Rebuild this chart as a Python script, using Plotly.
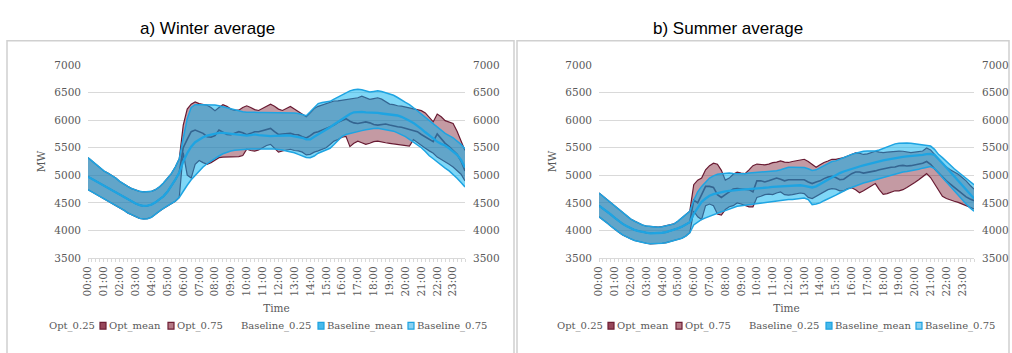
import plotly.graph_objects as go

W, H = 1012, 353

times = [f"{h:02d}:{m:02d}" for h in range(24) for m in (0, 15, 30, 45)]
hour_labels = ["00:00", "01:00", "02:00", "03:00", "04:00", "05:00", "06:00", "07:00",
               "08:00", "09:00", "10:00", "11:00", "12:00", "13:00", "14:00", "15:00",
               "16:00", "17:00", "18:00", "19:00", "20:00", "21:00", "22:00", "23:00"]

# ---------------- Winter ----------------
w_base_q25 = [4740, 4700, 4660, 4620, 4580, 4540, 4500, 4460, 4420, 4370, 4320, 4290, 4250, 4220, 4210, 4215, 4240, 4300, 4350, 4400, 4440, 4480, 4530, 4600,
              4720, 4820, 4920, 5000, 5080, 5150, 5210, 5260, 5310, 5350, 5390, 5420, 5440, 5455, 5465, 5470, 5472, 5475, 5478, 5480, 5480, 5480, 5478, 5475,
              5470, 5460, 5442, 5430, 5410, 5380, 5350, 5325, 5320, 5350, 5400, 5430, 5460, 5490, 5559, 5640, 5705, 5740, 5760, 5775, 5793, 5810, 5825, 5840,
              5848, 5851, 5840, 5830, 5822, 5800, 5770, 5740, 5700, 5650, 5600, 5559, 5500, 5430, 5355, 5300, 5240, 5180, 5130, 5080, 5020, 4947, 4870, 4790]
w_base_mean = [4975, 4935, 4890, 4850, 4800, 4760, 4720, 4680, 4640, 4600, 4560, 4520, 4490, 4460, 4445, 4450, 4470, 4510, 4560, 4620, 4700, 4800, 4920, 5050,
               5250, 5400, 5520, 5600, 5650, 5690, 5720, 5740, 5755, 5770, 5770, 5760, 5750, 5740, 5730, 5720, 5720, 5730, 5740, 5730, 5720, 5715, 5710, 5715,
               5720, 5720, 5722, 5720, 5710, 5700, 5680, 5650, 5650, 5700, 5740, 5780, 5820, 5870, 5920, 5970, 6026, 6070, 6110, 6142, 6150, 6150, 6142, 6140,
               6135, 6130, 6120, 6110, 6100, 6090, 6084, 6060, 6030, 5990, 5950, 5900, 5840, 5780, 5720, 5660, 5610, 5570, 5540, 5490, 5430, 5370, 5280, 5140]
w_base_q75 = [5320, 5260, 5200, 5130, 5080, 5040, 5000, 4950, 4890, 4840, 4800, 4760, 4730, 4710, 4700, 4700, 4710, 4740, 4790, 4860, 4940, 5030, 5150, 5300,
              5675, 6025, 6230, 6280, 6280, 6280, 6280, 6280, 6275, 6260, 6240, 6220, 6200, 6180, 6160, 6150, 6145, 6140, 6140, 6140, 6140, 6140, 6140, 6140,
              6140, 6140, 6140, 6135, 6130, 6120, 6100, 6080, 6150, 6220, 6300, 6320, 6330, 6340, 6380, 6420, 6460, 6500, 6530, 6550, 6560, 6550, 6530, 6510,
              6520, 6530, 6520, 6500, 6480, 6450, 6410, 6360, 6320, 6280, 6230, 6170, 6110, 6050, 5990, 5930, 5870, 5810, 5760, 5720, 5680, 5620, 5560, 5480]
w_opt_q25 = [4740, 4700, 4660, 4620, 4580, 4540, 4500, 4460, 4420, 4370, 4320, 4290, 4250, 4220, 4210, 4215, 4240, 4300, 4350, 4400, 4440, 4480, 4530, 4600,
             5413, 5005, 4950, 5200, 5268, 5230, 5200, 5230, 5280, 5320, 5330, 5335, 5330, 5335, 5340, 5360, 5472, 5450, 5440, 5460, 5500, 5540, 5560, 5480,
             5420, 5440, 5460, 5472, 5450, 5443, 5420, 5370, 5380, 5420, 5443, 5470, 5500, 5560, 5620, 5650, 5690, 5705, 5520, 5580, 5618, 5590, 5560, 5580,
             5610, 5618, 5600, 5590, 5580, 5570, 5559, 5550, 5540, 5530, 5647, 5600, 5540, 5490, 5443, 5400, 5330, 5290, 5250, 5200, 5150, 5080, 5020, 4900]
w_opt_mean = [4975, 4935, 4890, 4850, 4800, 4760, 4720, 4680, 4640, 4600, 4560, 4520, 4490, 4460, 4445, 4450, 4470, 4510, 4560, 4620, 4700, 4800, 4920, 5050,
              5500, 5650, 5790, 5820, 5790, 5760, 5700, 5690, 5720, 5822, 5780, 5740, 5734, 5760, 5790, 5770, 5734, 5760, 5790, 5790, 5810, 5840, 5850, 5790,
              5740, 5750, 5760, 5760, 5740, 5734, 5700, 5676, 5720, 5770, 5790, 5820, 5850, 5880, 5909, 5960, 6000, 6026, 5980, 5950, 5938, 5950, 5968, 5950,
              5920, 5909, 5920, 5930, 5910, 5890, 5880, 5870, 5850, 5840, 5820, 5790, 5740, 5700, 5650, 5610, 5750, 5660, 5580, 5520, 5450, 5380, 5260, 5080]
w_opt_q75 = [5320, 5260, 5200, 5130, 5080, 5040, 5000, 4950, 4890, 4840, 4800, 4760, 4730, 4710, 4700, 4700, 4710, 4740, 4790, 4860, 4940, 5030, 5150, 5300,
             5910, 6200, 6290, 6330, 6300, 6280, 6270, 6230, 6172, 6230, 6280, 6250, 6200, 6175, 6180, 6230, 6260, 6230, 6190, 6175, 6210, 6260, 6288, 6250,
             6200, 6175, 6210, 6247, 6200, 6150, 6110, 6060, 6130, 6210, 6250, 6275, 6300, 6320, 6347, 6350, 6360, 6370, 6390, 6400, 6405, 6434, 6400, 6376,
             6390, 6405, 6380, 6330, 6290, 6280, 6260, 6255, 6240, 6230, 6210, 6190, 6172, 6130, 6040, 5970, 6110, 6060, 5990, 5970, 5940, 5800, 5640, 5450]

# ---------------- Summer ----------------
s_base_q25 = [4250, 4200, 4140, 4080, 4020, 3970, 3920, 3880, 3850, 3820, 3800, 3780, 3770, 3760, 3760, 3760, 3770, 3780, 3800, 3810, 3830, 3860, 3900, 3960,
              4100, 4150, 4200, 4230, 4260, 4290, 4320, 4340, 4360, 4390, 4420, 4440, 4450, 4460, 4470, 4480, 4480, 4490, 4500, 4510, 4520, 4530, 4540, 4550,
              4560, 4560, 4570, 4580, 4590, 4560, 4470, 4480, 4500, 4540, 4570, 4600, 4640, 4680, 4720, 4750, 4780, 4810, 4840, 4860, 4880, 4900, 4920, 4940,
              4960, 4990, 5010, 5030, 5050, 5060, 5070, 5080, 5090, 5110, 5130, 5150, 5160, 5120, 5040, 4960, 4870, 4790, 4700, 4620, 4550, 4480, 4410, 4350]
s_base_mean = [4450, 4400, 4350, 4290, 4230, 4170, 4120, 4080, 4040, 4010, 3990, 3970, 3960, 3950, 3950, 3950, 3960, 3970, 3990, 4010, 4040, 4070, 4110, 4150,
               4300, 4420, 4520, 4580, 4630, 4660, 4680, 4700, 4710, 4720, 4730, 4735, 4740, 4745, 4750, 4750, 4755, 4760, 4770, 4780, 4790, 4795, 4800, 4805,
               4810, 4815, 4820, 4820, 4810, 4790, 4780, 4800, 4840, 4880, 4930, 4970, 5010, 5040, 5070, 5095, 5120, 5140, 5160, 5180, 5200, 5220, 5240, 5255,
               5270, 5285, 5300, 5315, 5325, 5335, 5345, 5350, 5360, 5365, 5370, 5385, 5390, 5370, 5300, 5220, 5140, 5060, 4980, 4900, 4820, 4740, 4660, 4580]
s_base_q75 = [4680, 4620, 4560, 4500, 4440, 4380, 4320, 4260, 4210, 4170, 4130, 4100, 4080, 4070, 4060, 4060, 4070, 4090, 4100, 4120, 4170, 4230, 4290, 4350,
              4550, 4700, 4800, 4880, 4950, 4990, 5020, 5030, 5040, 5040, 5035, 5030, 5030, 5030, 5040, 5045, 5050, 5060, 5060, 5065, 5075, 5085, 5100, 5120,
              5146, 5146, 5146, 5146, 5140, 5120, 5088, 5100, 5140, 5180, 5220, 5250, 5262, 5290, 5320, 5360, 5380, 5400, 5420, 5436, 5440, 5440, 5440, 5460,
              5490, 5520, 5540, 5570, 5580, 5585, 5585, 5581, 5570, 5570, 5555, 5550, 5530, 5470, 5380, 5320, 5250, 5190, 5120, 5060, 5000, 4943, 4880, 4830]
s_opt_q25 = [4250, 4200, 4140, 4080, 4020, 3970, 3920, 3880, 3850, 3820, 3800, 3780, 3770, 3760, 3760, 3760, 3770, 3780, 3800, 3810, 3830, 3860, 3900, 3960,
             4350, 4250, 4200, 4450, 4480, 4450, 4300, 4280, 4380, 4430, 4450, 4500, 4480, 4450, 4430, 4430, 4600, 4620, 4650, 4660, 4650, 4680, 4700, 4650,
             4640, 4650, 4660, 4680, 4670, 4600, 4580, 4620, 4650, 4700, 4740, 4760, 4750, 4720, 4720, 4760, 4774, 4740, 4685, 4720, 4760, 4800, 4850, 4740,
             4656, 4670, 4700, 4720, 4720, 4740, 4780, 4833, 4870, 4920, 4980, 5030, 4960, 4850, 4720, 4620, 4580, 4550, 4530, 4509, 4480, 4450, 4420, 4390]
s_opt_mean = [4450, 4400, 4350, 4290, 4230, 4170, 4120, 4080, 4040, 4010, 3990, 3970, 3960, 3950, 3950, 3950, 3960, 3970, 3990, 4010, 4040, 4070, 4110, 4150,
              4550, 4500, 4650, 4800, 4800, 4780, 4650, 4600, 4650, 4700, 4750, 4760, 4750, 4750, 4740, 4700, 4900, 4900, 4880, 4900, 4920, 4950, 4930, 4900,
              4920, 4920, 4920, 4930, 4920, 4880, 4850, 4880, 4900, 4940, 4970, 4980, 4960, 4920, 4930, 4980, 5030, 5059, 5059, 5040, 5050, 5060, 5080, 5100,
              5120, 5140, 5146, 5150, 5175, 5180, 5170, 5175, 5190, 5210, 5220, 5250, 5200, 5120, 5040, 4960, 4900, 4840, 4780, 4720, 4660, 4610, 4570, 4540]
s_opt_q75 = [4680, 4620, 4560, 4500, 4440, 4380, 4320, 4260, 4210, 4170, 4130, 4100, 4080, 4070, 4060, 4060, 4070, 4090, 4100, 4120, 4170, 4230, 4290, 4350,
             4830, 4913, 4950, 5100, 5175, 5220, 5200, 5090, 4913, 4950, 5020, 5059, 5040, 5030, 5100, 5175, 5204, 5200, 5190, 5204, 5230, 5240, 5262, 5240,
             5233, 5250, 5262, 5270, 5291, 5250, 5204, 5146, 5190, 5233, 5260, 5291, 5290, 5300, 5320, 5350, 5380, 5407, 5400, 5378, 5390, 5410, 5436, 5420,
             5410, 5420, 5430, 5436, 5440, 5436, 5420, 5410, 5420, 5430, 5440, 5494, 5460, 5380, 5300, 5230, 5150, 5100, 5060, 5020, 4960, 4900, 4820, 4750]

panel_titles = ["a) Winter average", "b) Summer average"]
legend_names = ["Opt_0.25", "Opt_mean", "Opt_0.75", "Baseline_0.25", "Baseline_mean", "Baseline_0.75"]
y_ticks = [3500, 4000, 4500, 5000, 5500, 6000, 6500, 7000]

# ---------------- styles ----------------
OPT_LINE = "rgb(104,26,50)"
OPT_FILL = "rgba(125,30,52,0.45)"
BASE_LINE = "rgb(30,164,226)"
BASE_FILL = "rgba(0,176,240,0.5)"
GRID = "#d9d9d9"
TXT = "#595959"
SERIF = "DejaVu Serif"


def px(x):
    return x / W


def py(y):
    return 1 - y / H


fig = go.Figure()

panels = [
    dict(data=(w_opt_q25, w_opt_mean, w_opt_q75, w_base_q25, w_base_mean, w_base_q75),
         xa="x", ya="y", yr="y3"),
    dict(data=(s_opt_q25, s_opt_mean, s_opt_q75, s_base_q25, s_base_mean, s_base_q75),
         xa="x2", ya="y2", yr="y4"),
]

for p in panels:
    oq25, omean, oq75, bq25, bmean, bq75 = p["data"]
    kw = dict(x=times, xaxis=p["xa"], yaxis=p["ya"], mode="lines", showlegend=False, hoverinfo="x+y+name")
    fig.add_trace(go.Scatter(y=oq25, name="Opt_0.25", line=dict(color=OPT_LINE, width=1.2), **kw))
    fig.add_trace(go.Scatter(y=oq75, name="Opt_0.75", fill="tonexty", fillcolor=OPT_FILL,
                             line=dict(color=OPT_LINE, width=1.2), **kw))
    fig.add_trace(go.Scatter(y=omean, name="Opt_mean", line=dict(color=OPT_LINE, width=1.6), **kw))
    fig.add_trace(go.Scatter(y=bq25, name="Baseline_0.25", line=dict(color=BASE_LINE, width=1.5), **kw))
    fig.add_trace(go.Scatter(y=bq75, name="Baseline_0.75", fill="tonexty", fillcolor=BASE_FILL,
                             line=dict(color=BASE_LINE, width=1.5), **kw))
    fig.add_trace(go.Scatter(y=bmean, name="Baseline_mean", line=dict(color=BASE_LINE, width=2.3), **kw))
    # anchor trace for the mirrored right-hand axis
    fig.add_trace(go.Scatter(x=[times[0]], y=[None], xaxis=p["xa"], yaxis=p["yr"], mode="lines",
                             showlegend=False, hoverinfo="skip"))

tickvals = times
ticktext = [t if t in hour_labels else "" for t in times]

xcommon = dict(type="category", categoryorder="array", categoryarray=times,
               range=[0, len(times) - 1], tickvals=tickvals, ticktext=ticktext,
               tickangle=-90, ticks="outside", ticklen=3, tickcolor=GRID, tickwidth=1,
               showline=True, linecolor=GRID, linewidth=1, showgrid=False, zeroline=False,
               tickfont=dict(family=SERIF, size=10.5, color=TXT),
               title=dict(text="Time", font=dict(family=SERIF, size=10.5, color=TXT), standoff=9),
               automargin=False)
ycommon = dict(range=[3500, 7000], tickvals=y_ticks, showgrid=True, gridcolor=GRID, gridwidth=1,
               zeroline=False, showline=False, ticks="",
               tickfont=dict(family=SERIF, size=10.5, color=TXT), automargin=False)

fig.update_layout(
    width=W, height=H, autosize=False,
    margin=dict(l=0, r=0, t=0, b=0),
    paper_bgcolor="white", plot_bgcolor="white",
    showlegend=False,
    xaxis=dict(domain=[px(88), px(465)], anchor="y", **xcommon),
    xaxis2=dict(domain=[px(599), px(974)], anchor="y2", **xcommon),
    yaxis=dict(domain=[py(261), py(61)], anchor="x", ticklabelstandoff=6,
               title=dict(text="MW", font=dict(family=SERIF, size=10.5, color=TXT), standoff=6), **ycommon),
    yaxis2=dict(domain=[py(261), py(61)], anchor="x2", ticklabelstandoff=6,
                title=dict(text="MW", font=dict(family=SERIF, size=10.5, color=TXT), standoff=6), **ycommon),
    yaxis3=dict(overlaying="y", side="right", anchor="x", range=[3500, 7000], tickvals=y_ticks,
                showgrid=False, zeroline=False, showline=False, ticks="", ticklabelstandoff=7,
                tickfont=dict(family=SERIF, size=10.5, color=TXT)),
    yaxis4=dict(overlaying="y2", side="right", anchor="x2", range=[3500, 7000], tickvals=y_ticks,
                showgrid=False, zeroline=False, showline=False, ticks="", ticklabelstandoff=7,
                tickfont=dict(family=SERIF, size=10.5, color=TXT)),
)

shapes = []
annotations = []

# panel frames
for bx0, bx1 in [(7, 514), (517, 1009)]:
    shapes.append(dict(type="rect", xref="paper", yref="paper", x0=px(bx0), x1=px(bx1),
                       y0=py(362), y1=py(36), line=dict(color="#d0d0d0", width=1.5), fillcolor="rgba(0,0,0,0)",
                       layer="below"))

# panel titles
for title, cx in zip(panel_titles, [207, 728]):
    annotations.append(dict(text=title, xref="paper", yref="paper", x=px(cx), y=py(23),
                            xanchor="center", yanchor="middle", showarrow=False,
                            font=dict(family="Liberation Sans, Arial", size=17, color="#000000")))

# legends (Excel-style keys)
key_styles = [None, ("rgb(110,30,52)", "rgb(150,70,90)"), ("rgb(110,30,52)", "rgb(180,120,132)"),
              None, ("rgb(30,162,224)", "rgb(70,185,235)"), ("rgb(30,162,224)", "rgb(135,208,242)")]
text_x = [47, 107, 175, 239, 325, 415]
key_x = [None, 100, 168, None, 318, 408]
ly = 331
for off in [0, 508]:
    for name, tx, kx, ks in zip(legend_names, text_x, key_x, key_styles):
        annotations.append(dict(text=name, xref="paper", yref="paper", x=px(tx + off), y=py(ly),
                                xanchor="left", yanchor="middle", showarrow=False,
                                font=dict(family=SERIF, size=10, color=TXT)))
        if kx is not None:
            shapes.append(dict(type="rect", xref="paper", yref="paper",
                               x0=px(kx + off), x1=px(kx + off + 6), y0=py(ly + 3.5), y1=py(ly - 3.5),
                               line=dict(color=ks[0], width=1.2), fillcolor=ks[1]))

fig.update_layout(shapes=shapes, annotations=annotations)

fig.write_html("out.html", config={"displayModeBar": False},
               post_script="document.body.style.margin='0';document.body.style.overflow='hidden';")
